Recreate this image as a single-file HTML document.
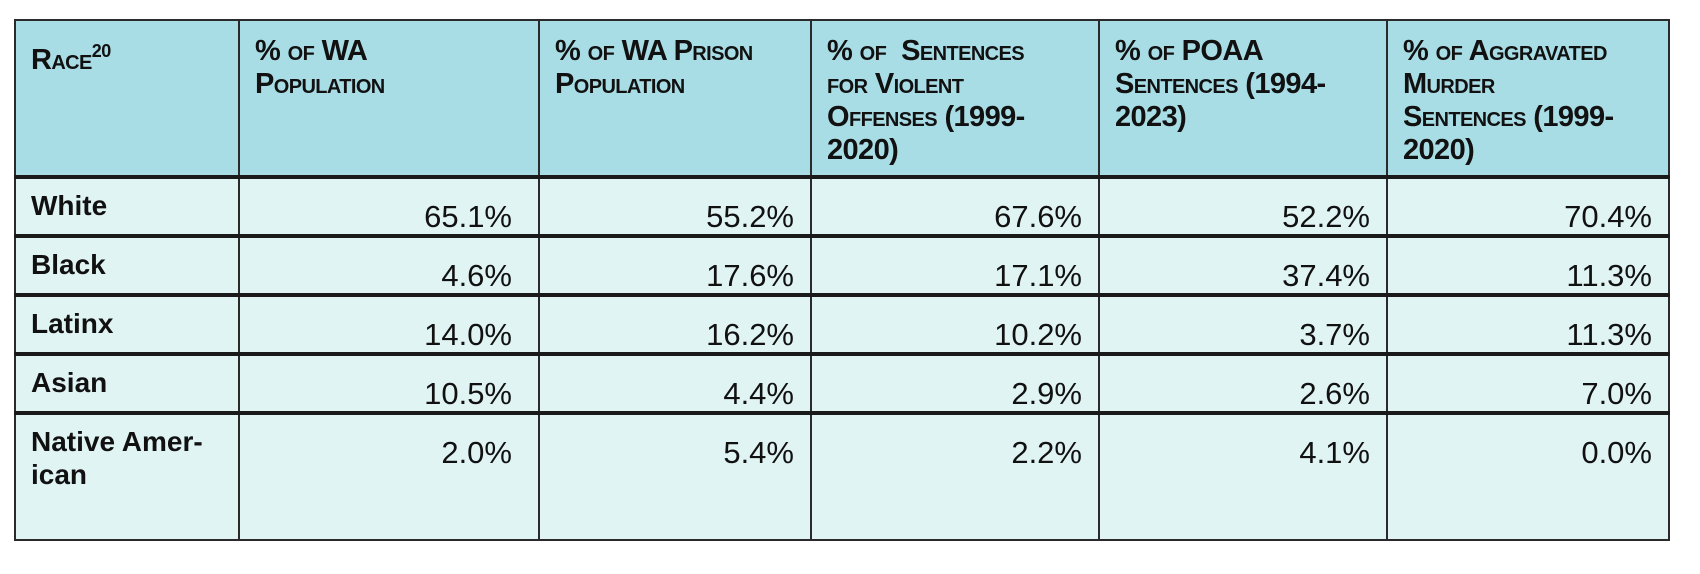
<!DOCTYPE html>
<html><head><meta charset="utf-8"><style>
html,body{margin:0;padding:0;background:#fff;width:1700px;height:574px;overflow:hidden}
table{position:absolute;left:14px;top:19px;border-collapse:collapse;table-layout:fixed;font-family:"Liberation Sans",sans-serif;color:#111}
td,th{border:2px solid #2a2a2a;padding:0;vertical-align:top;text-align:right}
th{background:#a9dde6;height:140px;text-align:left;font-weight:bold;font-variant:small-caps;font-size:29px;line-height:33px;padding:14px 4px 0 15px;white-space:nowrap;overflow:hidden;letter-spacing:-0.6px}
td{background:#e1f4f4;font-size:31px;padding:21px 16px 0 10px;height:34px;line-height:34px}
tr+tr td{border-top:4px solid #1a1a1a}
td.l{text-align:left;font-weight:bold;font-size:28px;padding-left:15px;padding-top:10px;line-height:33px;height:45px}
tr.last td{height:103px}
tr.last td.l{height:114px}
sup{font-size:18px;vertical-align:12px}
</style></head><body>
<table>
<colgroup><col style="width:224px"><col style="width:300px"><col style="width:272px"><col style="width:288px"><col style="width:288px"><col style="width:282px"></colgroup>
<tr class="h"><th>Race<sup>20</sup></th><th>% of WA<br>Population</th><th>% of WA Prison<br>Population</th><th>% of&nbsp; Sentences<br>for Violent<br>Offenses (1999-<br>2020)</th><th>% of POAA<br>Sentences (1994-<br>2023)</th><th>% of Aggravated<br>Murder<br>Sentences (1999-<br>2020)</th></tr>
<tr><td class="l">White</td><td style="padding-right:26px">65.1%</td><td>55.2%</td><td>67.6%</td><td>52.2%</td><td>70.4%</td></tr>
<tr><td class="l">Black</td><td style="padding-right:26px">4.6%</td><td>17.6%</td><td>17.1%</td><td>37.4%</td><td>11.3%</td></tr>
<tr><td class="l">Latinx</td><td style="padding-right:26px">14.0%</td><td>16.2%</td><td>10.2%</td><td>3.7%</td><td>11.3%</td></tr>
<tr><td class="l">Asian</td><td style="padding-right:26px">10.5%</td><td>4.4%</td><td>2.9%</td><td>2.6%</td><td>7.0%</td></tr>
<tr class="last"><td class="l">Native Amer-<br>ican</td><td style="padding-right:26px">2.0%</td><td>5.4%</td><td>2.2%</td><td>4.1%</td><td>0.0%</td></tr>
</table>
</body></html>
